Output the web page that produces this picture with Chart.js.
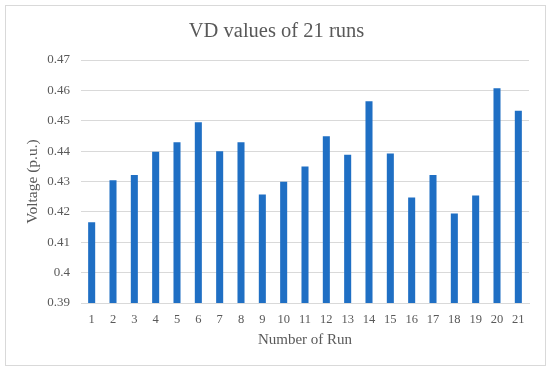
<!DOCTYPE html>
<html>
<head>
<meta charset="utf-8">
<script src="https://cdn.jsdelivr.net/npm/chart.js@4/dist/chart.umd.min.js"></script>
<style>
html,body{margin:0;padding:0;background:#fff;}
#wrap{width:550px;height:372px;position:relative;}
</style>
</head>
<body>
<div id="wrap"><canvas id="c" width="550" height="372"></canvas></div>
<script>
const categories = ["1","2","3","4","5","6","7","8","9","10","11","12","13","14","15","16","17","18","19","20","21"];
const vdValues = [0.4166,0.4304,0.4321,0.4398,0.4429,0.4495,0.4400,0.4429,0.4257,0.4299,0.4349,0.4449,0.4388,0.4564,0.4392,0.4247,0.4321,0.4195,0.4254,0.4607,0.4533];
const yMin = 0.39, yMax = 0.47, yStep = 0.01;
const titleText = "VD values of 21 runs";
const xTitle = "Number of Run";
const yTitle = "Voltage (p.u.)";

const serif = "'Liberation Serif','Times New Roman',serif";
const grey = "#595959";

const framePlugin = {
  id: 'frame',
  beforeDraw(chart){
    const ctx = chart.ctx;
    ctx.save();
    ctx.fillStyle = '#fff';
    ctx.fillRect(0,0,chart.width,chart.height);
    ctx.strokeStyle = '#d9d9d9';
    ctx.lineWidth = 1;
    ctx.strokeRect(5.5,5.5,540,360);
    ctx.restore();
  }
};

new Chart(document.getElementById('c'), {
  type: 'bar',
  data: {
    labels: categories,
    datasets: [{
      data: vdValues,
      backgroundColor: '#1f6fc4',
      categoryPercentage: 1,
      barPercentage: 0.33
    }]
  },
  options: {
    responsive: false,
    animation: false,
    layout: { padding: { left: 24, right: 21, top: 0, bottom: 23 } },
    plugins: {
      legend: { display: false },
      tooltip: { enabled: false },
      title: {
        display: true,
        text: titleText,
        color: grey,
        font: { family: serif, size: 20.5, weight: 'normal' },
        padding: { top: 19, bottom: 16.4 }
      }
    },
    scales: {
      x: {
        grid: { display: false, drawTicks: false },
        border: { display: true, color: '#d9d9d9' },
        ticks: { color: grey, font: { family: serif, size: 12.5 }, padding: 9, maxRotation: 0, autoSkip: false },
        title: { display: true, text: xTitle, color: grey, font: { family: serif, size: 15 }, padding: { top: 4, bottom: 0 } },
        afterFit(s){ s.height = 372 - 303 - 23; }
      },
      y: {
        min: yMin, max: yMax,
        grid: { color: '#d9d9d9', drawTicks: false },
        border: { display: false },
        ticks: {
          stepSize: yStep, color: grey, font: { family: serif, size: 13 }, padding: 11,
          callback: v => String(Number(v.toFixed(2)))
        },
        title: { display: true, text: yTitle, color: grey, font: { family: serif, size: 15.5 }, padding: { top: 0, bottom: 4 } },
        afterFit(s){ s.width = 81 - 24; }
      }
    }
  },
  plugins: [framePlugin]
});
</script>
</body>
</html>
